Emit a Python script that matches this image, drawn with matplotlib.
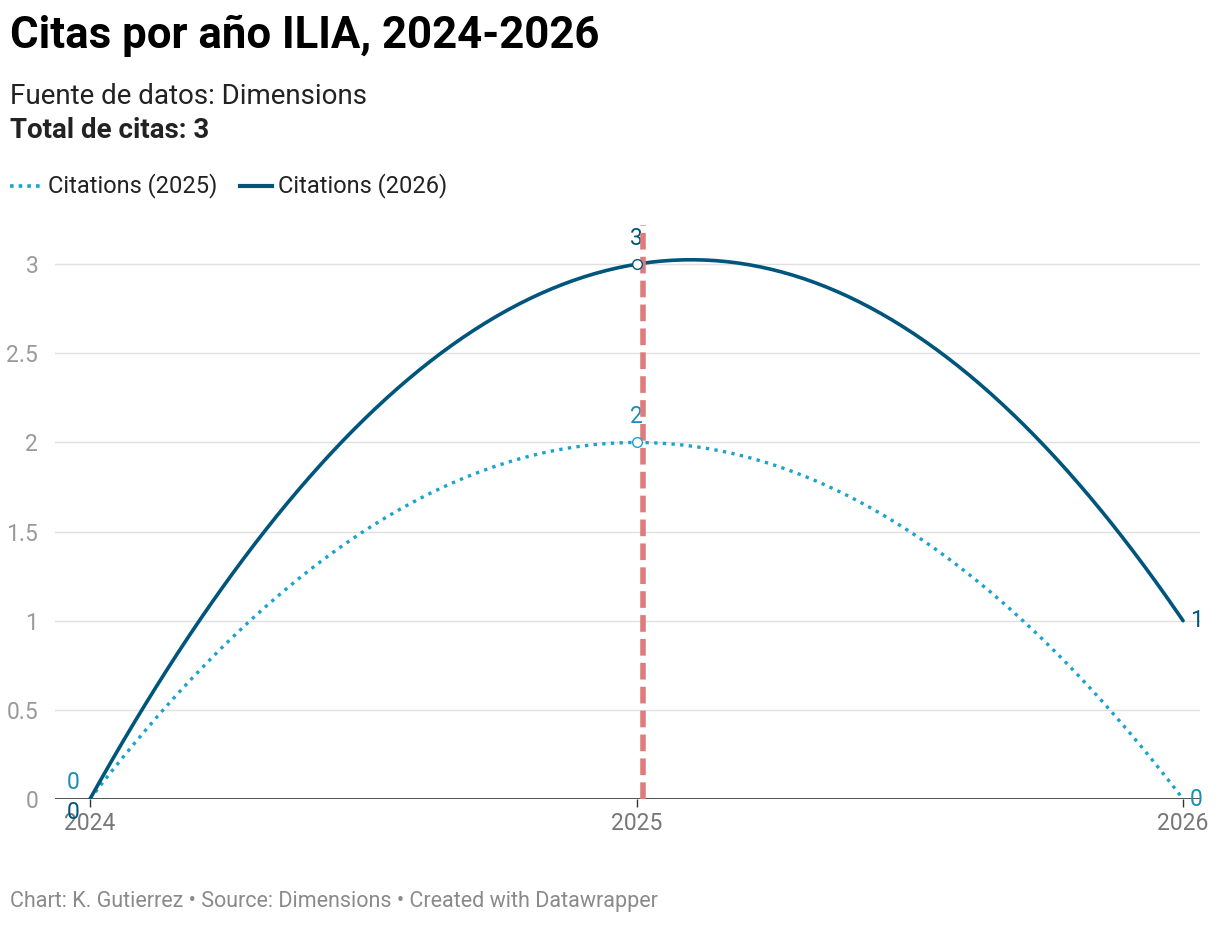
import numpy as np
import matplotlib.pyplot as plt
from matplotlib.lines import Line2D

plt.rcParams['font.family'] = ['Roboto', 'DejaVu Sans']

years = [2024, 2025, 2026]
cit_2025 = [0, 2, 0]
cit_2026 = [0, 3, 1]
yticks = [0, 0.5, 1, 1.5, 2, 2.5, 3]
ytick_labels = ["0", "0.5", "1", "1.5", "2", "2.5", "3"]

C25, C26, RED = "#1aa3cf", "#00557d", "#e07b7b"

W, H = 1220, 926
fig = plt.figure(figsize=(W / 100, H / 100), dpi=100)
ax = fig.add_axes([55 / W, (H - 799) / H, 1145 / W, 574 / H])
ax.set_xlim(2023.936, 2026.031)
ax.set_ylim(0, 3.22)
for s in ax.spines.values():
    s.set_visible(False)
ax.set_yticks(yticks)
ax.set_yticklabels(ytick_labels)
ax.set_xticks(years)
ax.set_xticklabels([str(y) for y in years])
ax.tick_params(axis='y', length=0, pad=12, labelsize=16.5, labelcolor="#9a9a9a")
ax.tick_params(axis='x', length=6, width=1, color="#333333", pad=3, labelsize=16.5, labelcolor="#777777")
for lab in ax.get_yticklabels():
    lab.set_horizontalalignment('right')
for y in yticks[1:]:
    ax.axhline(y, color="#e0e0e0", lw=1, zorder=0)
ax.axhline(0, color="#333333", lw=1.2, zorder=3)

# smooth curves through the three yearly points
xs = np.array(years) - 2024
xx = np.linspace(0, 2, 200)
for vals, col, ls in [(cit_2025, C25, (0, (1, 1.6))), (cit_2026, C26, '-')]:
    p = np.polyfit(xs, vals, 2)
    ax.plot(xx + 2024, np.polyval(p, xx), color=col, lw=2.6 if ls == '-' else 2.4,
            linestyle=ls, zorder=4, solid_capstyle='round')

ax.axvline(2025.011, color=RED, lw=4, linestyle=(0, (3, 1.3)), zorder=5)

# value labels
ax.plot([2025], [2], 'o', mfc='white', mec=C25, ms=7, mew=1, zorder=6)
ax.plot([2025], [3], 'o', mfc='white', mec=C26, ms=7, mew=1, zorder=6)
ax.text(2025, 2.08, "2", color="#1a8fb5", fontsize=16.5, ha='center', va='bottom')
ax.text(2025, 3.08, "3", color=C26, fontsize=16.5, ha='center', va='bottom')
ax.text(2023.97, 0.03, "0", color="#1a8fb5", fontsize=16.5, ha='center', va='bottom')
ax.text(2023.97, -0.01, "0", color=C26, fontsize=16.5, ha='center', va='top')
ax.text(2026.012, 1, "1", color=C26, fontsize=16.5, ha='left', va='center')
ax.text(2026.012, 0, "0", color="#1a8fb5", fontsize=16.5, ha='left', va='center')

# titles
fig.text(10 / W, 1 - 36 / H, "Citas por año ILIA, 2024-2026", fontsize=31.5, weight='bold', va='center')
fig.text(10 / W, 1 - 97 / H, "Fuente de datos: Dimensions", fontsize=20, color="#222222", va='center')
fig.text(10 / W, 1 - 130 / H, "Total de citas: 3", fontsize=20, weight='bold', color="#222222", va='center')

# legend
ly = 1 - 186 / H
fig.add_artist(Line2D([10 / W, 42 / W], [ly, ly], color=C25, lw=2.6, linestyle=(0, (1, 1.4))))
fig.text(48 / W, ly, "Citations (2025)", fontsize=17, color="#222222", va='center')
fig.add_artist(Line2D([240 / W, 272 / W], [ly, ly], color=C26, lw=3))
fig.text(278 / W, ly, "Citations (2026)", fontsize=17, color="#222222", va='center')

fig.text(10 / W, 1 - 901 / H, "Chart: K. Gutierrez • Source: Dimensions • Created with Datawrapper",
         fontsize=15.5, color="#8a8a8a", va='center')

fig.savefig("out.png", dpi=100, facecolor="white")
